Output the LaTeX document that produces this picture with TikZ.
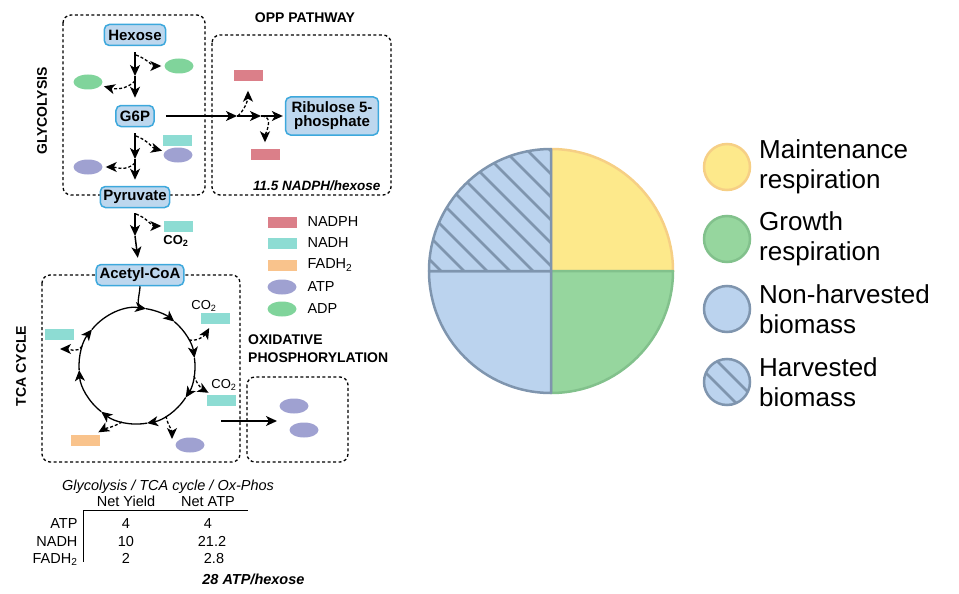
\documentclass[tikz,border=0pt]{standalone}
\usepackage{fontspec}
\setmainfont{Liberation Sans}
\usetikzlibrary{arrows.meta,shapes.geometric}
\definecolor{boxfill}{HTML}{BDD7EE}
\definecolor{boxline}{HTML}{3DA8DC}
\definecolor{nadphcol}{HTML}{DB7F89}
\definecolor{nadhcol}{HTML}{8DDCD3}
\definecolor{fadhcol}{HTML}{F9C38C}
\definecolor{atpcol}{HTML}{9FA1D1}
\definecolor{adpcol}{HTML}{80D49B}
\definecolor{maintfill}{HTML}{FDE98B}
\definecolor{maintline}{HTML}{F6CF85}
\definecolor{growfill}{HTML}{96D69E}
\definecolor{growline}{HTML}{82C18C}
\definecolor{biofill}{HTML}{BBD3EE}
\definecolor{bioline}{HTML}{7F95AE}

\begin{document}
\begin{tikzpicture}[x=1pt, y=-1pt, every node/.style={font=\fontsize{14.5}{17}\selectfont}, >={Stealth[length=11pt,width=10pt,inset=3pt]},
	met/.style={draw=boxline, fill=boxfill, line width=1.5pt, rounded corners=5pt, inner xsep=4pt, inner ysep=2pt, minimum height=21pt, align=center, font=\bfseries\fontsize{15}{14}\selectfont},
	stage/.style={draw, line width=1.3pt, dash pattern=on 3pt off 2.5pt, rounded corners=8pt},
	heading/.style={font=\bfseries\fontsize{14}{18}\selectfont},
	bar/.style={rectangle, inner sep=0pt, minimum width=29pt, minimum height=11pt},
	blob/.style={ellipse, inner sep=0pt, minimum width=29pt, minimum height=15pt},
	flow/.style={->, line width=1.5pt},
	side/.style={->, line width=1.3pt, dash pattern=on 3pt off 2pt},
	smalltxt/.style={font=\fontsize{13}{13}\selectfont, inner sep=1pt},
	cell/.style={anchor=base},
	keyc/.style={circle, minimum size=46pt, inner sep=0pt, line width=2.5pt},
	keytext/.style={anchor=west, align=left, inner sep=0pt, font=\fontsize{26}{30}\selectfont},
	hatch/.style={bioline, line width=2.5pt}]
	\useasboundingbox (0,0) rectangle (959,594);
	\draw[stage] (63,15) rectangle (205,195);
	\draw[stage] (212,35) rectangle (391,195);
	\draw[stage] (42,275) rectangle (240,462);
	\draw[stage] (247,377) rectangle (348,462);
	\node[heading] (opptitle) at (305,18) {OPP PATHWAY};
	\node[heading, rotate=90] (glytitle) at (42,111) {GLYCOLYSIS};
	\node[heading, rotate=90] (tcatitle) at (21,366) {TCA CYCLE};
	\node[heading, anchor=north west, align=left, inner sep=0pt] (oxtitle) at (248,335) {OXIDATIVE\\PHOSPHORYLATION};
	\node[met] (hex) at (135,35) {Hexose};
	\node[met] (g6p) at (135,116) {G6P};
	\node[met, inner xsep=3pt] (pyr) at (135,197) {Pyruvate};
	\node[met, inner xsep=3.5pt] (acoa) at (140,275) {Acetyl-CoA};
	\node[met, inner xsep=6pt, minimum height=38pt] (rib) at (332,116) {Ribulose 5-\\phosphate};
	\node[blob, fill=adpcol] (adpA) at (179,66) {};
	\node[blob, fill=adpcol] (adpB) at (88,82) {};
	\node[bar, fill=nadhcol] (nadhA) at (177,140) {};
	\node[blob, fill=atpcol] (atpA) at (178,155) {};
	\node[blob, fill=atpcol] (atpB) at (88,167) {};
	\node[bar, fill=nadhcol] (nadhB) at (178,226) {};
	\node[smalltxt, font=\bfseries\fontsize{13}{13}\selectfont] (co2A) at (176,241) {CO\textsubscript{2}};
	\node[bar, fill=nadphcol] (nadphA) at (248,76) {};
	\node[bar, fill=nadphcol] (nadphB) at (265,154) {};
	\node[anchor=east, font=\bfseries\itshape\fontsize{13.5}{14}\selectfont] (oppyield) at (384,186) {11.5 NADPH/hexose};
	\node[bar, fill=nadhcol] (nadhC) at (215,318) {};
	\node[smalltxt] (co2B) at (204,306) {CO\textsubscript{2}};
	\node[bar, fill=nadhcol] (nadhD) at (221,400) {};
	\node[smalltxt] (co2C) at (224,385) {CO\textsubscript{2}};
	\node[blob, fill=atpcol] (atpC) at (190,445) {};
	\node[bar, fill=fadhcol] (fadhA) at (85,440) {};
	\node[bar, fill=nadhcol] (nadhE) at (59,334) {};
	\node[blob, fill=atpcol] (atpD) at (294,406) {};
	\node[blob, fill=atpcol] (atpE) at (304,430) {};
	\node[bar, fill=nadphcol] (keyNadph) at (282,222) {};
	\node[bar, fill=nadhcol] (keyNadh) at (282,243) {};
	\node[bar, fill=fadhcol] (keyFadh) at (282,265) {};
	\node[blob, fill=atpcol] (keyAtp) at (282,287) {};
	\node[blob, fill=adpcol] (keyAdp) at (282,309) {};
	\node[anchor=west] (lblNadph) at (304,222) {NADPH};
	\node[anchor=west] (lblNadh) at (304,243) {NADH};
	\node[anchor=west] (lblFadh) at (304,265) {FADH\textsubscript{2}};
	\node[anchor=west] (lblAtp) at (304,287) {ATP};
	\node[anchor=west] (lblAdp) at (304,309) {ADP};
	\coordinate (gly1) at (135,76);
	\coordinate (gly2) at (135,159);
	\coordinate (gly3) at (135,236);
	\draw[flow, shorten <=6pt] (hex) -- (gly1);
	\draw[flow, shorten >=7pt] (gly1) -- (g6p);
	\draw[flow, shorten <=6pt] (g6p) -- (gly2);
	\draw[flow, shorten >=6pt] (gly2) -- (pyr);
	\draw[flow, shorten <=5pt] (pyr) -- (gly3);
	\draw[flow, shorten >=6pt] (gly3) -- (acoa);
	\coordinate (br1) at (136,55);
	\coordinate (br2) at (135,81);
	\coordinate (br3) at (136,136);
	\coordinate (br4) at (135,163);
	\coordinate (br5) at (136,214);
	\draw[side, shorten >=3pt] (br1) to[out=-20, in=180] (adpA);
	\draw[side, shorten >=3pt] (br2) to[out=-135, in=-15] (adpB);
	\draw[side, shorten >=3pt] (br3) to[out=-20, in=165] (atpA);
	\draw[side, shorten >=3pt] (br4) to[out=-135, in=0] (atpB);
	\draw[side, shorten >=2pt] (br5) to[out=-20, in=180] (nadhB);
	\coordinate (opp1) at (237,116);
	\coordinate (opp2) at (261,116);
	\draw[flow, shorten <=11pt] (g6p) -- (opp1);
	\draw[flow] (opp1) -- (opp2);
	\draw[flow, shorten >=2pt] (opp2) -- (rib);
	\coordinate (br6) at (238,116);
	\coordinate (br7) at (262,116);
	\draw[side, shorten >=9pt] (br6) to[out=45, in=-90] (nadphA);
	\draw[side, shorten >=6pt] (br7) to[out=0, in=90] (nadphB);
	\coordinate (tcac) at (137,366);
	\foreach \a/\b in {-141/-81,-81/-50,-50/-8,-8/33,33/80,80/128,128/176,176/219}
		\draw[->, line width=1.3pt] (tcac) ++(\a:58) arc[start angle=\a, end angle=\b, radius=58];
	\coordinate (tcain) at (143,308);
	\draw[line width=1.3pt] (acoa) to[out=-90, in=172] (tcain);
	\coordinate (tc1) at (189,340);
	\coordinate (tc2) at (194,376);
	\coordinate (tc3) at (166,416);
	\coordinate (tc4) at (122,422);
	\coordinate (tc5) at (82,346);
	\coordinate (tip3) at (172,439);
	\coordinate (tip5) at (60,349);
	\draw[side, shorten >=5pt] (tc1) to[out=-10, in=-120] (nadhC);
	\draw[side, shorten >=3pt] (tc2) to[out=-70, in=150] (nadhD);
	\draw[side] (tc3) to[out=-80, in=90] (tip3);
	\draw[side, shorten >=4pt] (tc4) to[out=-150, in=30] (fadhA);
	\draw[side] (tc5) to[out=-120, in=0] (tip5);
	\coordinate (tcaout) at (221,421);
	\coordinate (oxin) at (277,421);
	\draw[flow] (tcaout) -- (oxin);
	\node[cell] (thead) at (168,490) {\itshape Glycolysis / TCA cycle / Ox-Phos};
	\node[cell] (colYield) at (126,506) {Net Yield};
	\node[cell] (colAtp) at (208,506) {Net ATP};
	\draw[line width=0.8pt] (83,510) -- (248,510);
	\draw[line width=0.8pt] (83,510) -- (83,562);
	\foreach \y/\r/\a/\b/\x/\i in {528/ATP/4/4/208/1, 546/NADH/10/21.2/212/2, 563/{FADH\textsubscript{2}}/2/2.8/214/3} {
		\node[cell, anchor=base east] (rowname\i) at (81,\y) {\r};
		\node[cell] (yield\i) at (126,\y) {\a};
		\node[cell] (netatp\i) at (\x,\y) {\b};
	}
	\node[anchor=base east, font=\bfseries\itshape\fontsize{14.5}{17}\selectfont] (atpyield) at (308,584) {28 ATP/hexose};
	\coordinate (pie) at (551,271);
	\filldraw[fill=maintfill, draw=maintline, line width=2.5pt, line join=round] (pie) -- ++(122,0) arc[start angle=0, end angle=-90, radius=122] -- cycle;
	\filldraw[fill=growfill, draw=growline, line width=2.5pt, line join=round] (pie) -- ++(122,0) arc[start angle=0, end angle=90, radius=122] -- cycle;
	\filldraw[fill=biofill, draw=bioline, line width=2.5pt, line join=round] (pie) -- ++(0,122) arc[start angle=90, end angle=180, radius=122] -- cycle;
	\fill[biofill] (pie) -- ++(-122,0) arc[start angle=180, end angle=270, radius=122] -- cycle;
	\begin{scope}
		\clip (pie) -- ++(-122,0) arc[start angle=180, end angle=270, radius=122] -- cycle;
		\foreach \k in {170,193,...,400}
			\draw[hatch] (\k+140,140) -- (\k+280,280);
	\end{scope}
	\draw[bioline, line width=2.5pt, line join=round] (pie) -- ++(-122,0) arc[start angle=180, end angle=270, radius=122] -- cycle;
	\node[keyc, fill=maintfill, draw=maintline] (keyMaint) at (727,167) {};
	\node[keyc, fill=growfill, draw=growline] (keyGrow) at (727,239) {};
	\node[keyc, fill=biofill, draw=bioline] (keyNonharv) at (727,309) {};
	\node[keyc, fill=biofill, draw=bioline, path picture={
		\foreach \k in {-35,-12,11,34}
			\draw[hatch] ([shift={(\k-40,-40)}]path picture bounding box.center) -- ++(80,80);
	}] (keyHarv) at (727,382) {};
	\node[keytext] (txtMaint) at (759,167) {Maintenance\\respiration};
	\node[keytext] (txtGrow) at (759,239) {Growth\\respiration};
	\node[keytext] (txtNonharv) at (759,309) {Non-harvested\\biomass};
	\node[keytext] (txtHarv) at (759,382) {Harvested\\biomass};
\end{tikzpicture}
\end{document}
